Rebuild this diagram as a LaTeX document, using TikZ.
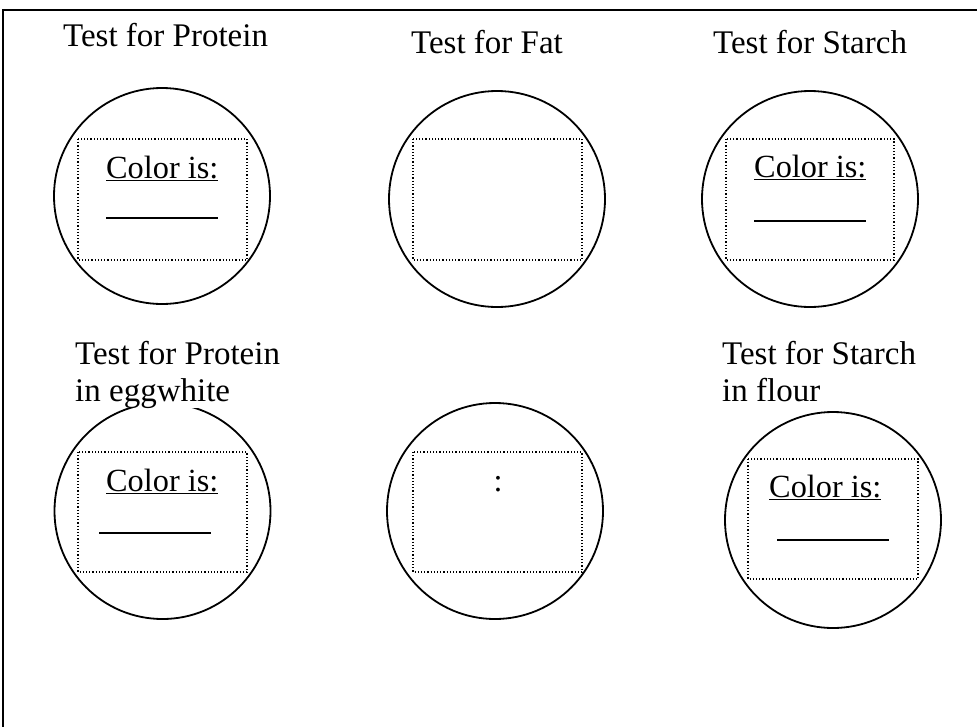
\documentclass[tikz,border=0pt]{standalone}
\usepackage{fontspec}
\setmainfont{Liberation Serif}
\tikzset{
  dish/.style={line width=1.8pt},
  window/.style={line width=1.2pt, dash pattern=on 1.2pt off 2pt},
  caption/.style={anchor=base west, inner sep=0pt, fill=white, align=left,
    font=\fontsize{33}{37}\selectfont},
  colortext/.style={anchor=base west, inner sep=0pt,
    font=\fontsize{32.3}{37}\selectfont},
  blank/.style={line width=2.6pt},
}
\begin{document}
\begin{tikzpicture}[x=1pt,y=-1pt]
  \clip (0,0) rectangle (977,726);
  \draw[line width=1.5pt] (3,10) rectangle (1000,760);

  \coordinate (P1) at (162,196);
  \coordinate (F1) at (497,199);
  \coordinate (S1) at (810,199);
  \coordinate (P2) at (162.5,511);
  \coordinate (E2) at (495,511);
  \coordinate (S2) at (833,520);

  \foreach \c in {P1,F1,S1,P2,E2,S2}
    \draw[dish] (\c) circle[radius=108];

  \draw[window] (78,139) rectangle (247,260);
  \draw[window] (413,139) rectangle (582,260);
  \draw[window] (726,139) rectangle (894,260);
  \draw[window] (78,452) rectangle (247,572);
  \draw[window] (413,452) rectangle (582,572);
  \draw[window] (748,459) rectangle (918,579);

  \node[caption] (protein) at (63,46) {Test for Protein};
  \node[caption] (fat) at (411,53) {Test for Fat};
  \node[caption] (starch) at (713,53) {Test for Starch};
  \node[caption] (egg) at (75,401) {Test for Protein\\in eggwhite};
  \node[caption] (flour) at (722,401) {Test for Starch\\in flour};

  \node[colortext] (color1) at (106,178) {\underline{Color is:}};
  \node[colortext] (color3) at (754,177) {\underline{Color is:}};
  \node[colortext] (color4) at (106,491) {\underline{Color is:}};
  \node[colortext] (color6) at (769,497) {\underline{Color is:}};
  \node[colortext, anchor=base] (colon) at (498,491) {:};

  \coordinate (b1a) at (106,218);  \coordinate (b1b) at (218,218);
  \coordinate (b3a) at (754,221);  \coordinate (b3b) at (866,221);
  \coordinate (b4a) at (99,533);   \coordinate (b4b) at (211,533);
  \coordinate (b6a) at (777,540);  \coordinate (b6b) at (889,540);
  \foreach \i in {1,3,4,6}
    \draw[blank] (b\i a) -- (b\i b);
\end{tikzpicture}
\end{document}
